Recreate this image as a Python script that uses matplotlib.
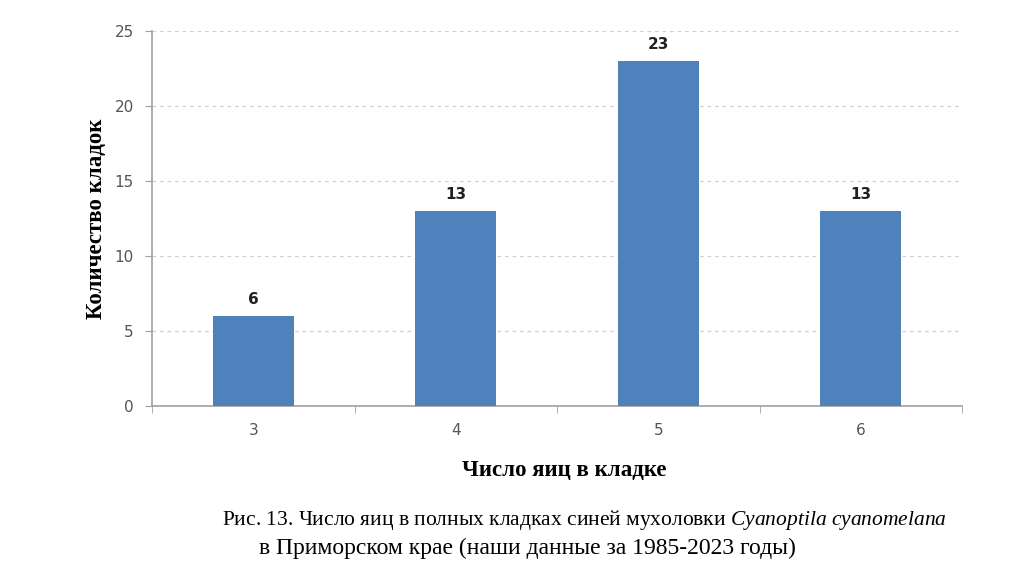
import matplotlib
matplotlib.use("Agg")
import matplotlib.pyplot as plt

eggs = ["3", "4", "5", "6"]
clutches = [6, 13, 23, 13]
y_ticks = [0, 5, 10, 15, 20, 25]

plt.rcParams['mathtext.fontset'] = 'custom'
plt.rcParams['mathtext.rm'] = 'Liberation Serif'
plt.rcParams['mathtext.it'] = 'Liberation Serif:italic'

fig = plt.figure(figsize=(10.24, 5.64), dpi=100)
ax = fig.add_axes([152/1024, 1 - 406/564, 810/1024, 375/564])

x = list(range(len(eggs)))
bars = ax.bar(x, clutches, width=0.4, color='#4f81bd', zorder=3)
for xi, v in zip(x, clutches):
    ax.text(xi, v + 0.6, str(v), ha='center', va='bottom', fontsize=11,
            fontweight='bold', color='#222222', family='DejaVu Sans')

ax.set_xlim(-0.5, len(eggs) - 0.5)
ax.set_ylim(0, 25)
ax.set_yticks(y_ticks)
ax.set_xticks(x)
ax.set_xticklabels(eggs)
ax.set_xticks([i - 0.5 for i in range(len(eggs) + 1)], minor=True)
ax.tick_params(axis='x', which='major', length=0, pad=12, labelsize=11, labelcolor='#555555')
ax.tick_params(axis='x', which='minor', length=5, color='#a0a0a0')
ax.tick_params(axis='y', length=5, color='#a0a0a0', labelsize=11, labelcolor='#555555', pad=8)

for y in y_ticks[1:]:
    ax.axhline(y, color='#d0d0d0', linestyle=(0, (3, 3)), linewidth=0.9, zorder=1)

for s in ['top', 'right']:
    ax.spines[s].set_visible(False)
for s in ['left', 'bottom']:
    ax.spines[s].set_color('#a0a0a0')
    ax.spines[s].set_linewidth(1.2)

fig.text(97/1024, 1 - 219/564, 'Количество кладок', rotation=90, ha='center', va='center',
         family='Liberation Serif', fontweight='bold', fontsize=16.5)
fig.text(564/1024, 1 - 471/564, 'Число яиц в кладке', ha='center', va='center',
         family='Liberation Serif', fontweight='bold', fontsize=16.5)

fig.text(584/1024, 1 - 520/564,
         r'Рис. 13. Число яиц в полных кладках синей мухоловки $\mathit{Cyanoptila\ cyanomelana}$',
         ha='center', va='center', family='Liberation Serif', fontsize=15.5)
fig.text(527/1024, 1 - 548/564, 'в Приморском крае (наши данные за 1985-2023 годы)',
         ha='center', va='center', family='Liberation Serif', fontsize=17)

fig.savefig('out.png', dpi=100)
